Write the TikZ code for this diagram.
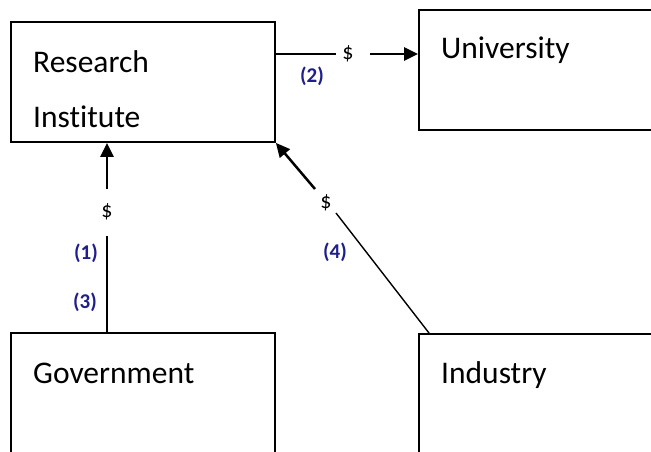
\documentclass[tikz,border=0pt]{standalone}
\usepackage{fontspec}
\setmainfont{Carlito}[Ligatures=NoCommon]
\usetikzlibrary{arrows.meta}
\definecolor{labelblue}{RGB}{30,30,140}
\begin{document}
\begin{tikzpicture}[x=1pt,y=-1pt,
  box/.style={draw,line width=1.8pt,rectangle,inner sep=0pt},
  boxtext/.style={anchor=base west,inner sep=0pt,font=\fontsize{31.5}{36}\selectfont},
  money/.style={inner sep=0pt,font=\fontsize{22}{26}\selectfont},
  stepno/.style={inner sep=0pt,text=labelblue,font=\bfseries\fontsize{21}{25}\selectfont},
  plain/.style={line width=1.4pt},
  flow/.style={line width=2.5pt,-{Triangle[length=14pt,width=13pt]}}]
  \useasboundingbox (0,0) rectangle (651,452);
  \clip (0,0) rectangle (651,452);

  % boxes (the three on the right and bottom run past the page edge)
  \node[box,minimum width=264pt,minimum height=120pt] (ri)  at (143,82)  {};
  \node[box,minimum width=300pt,minimum height=120pt] (uni) at (569,70)  {};
  \node[box,minimum width=264pt,minimum height=180pt] (gov) at (143,423) {};
  \node[box,minimum width=300pt,minimum height=180pt] (ind) at (569,424) {};

  % box titles
  \node[boxtext] (riA)  at (33,73)   {Research};
  \node[boxtext] (riB)  at (33,127)  {Institute};
  \node[boxtext] (uniT) at (441,59)  {University};
  \node[boxtext] (govT) at (33,383)  {Government};
  \node[boxtext] (indT) at (441,383) {Industry};

  % money signs that interrupt the flows
  \node[money] (d1) at (107,212) {\$};
  \node[money] (d2) at (348,54)  {\$};
  \node[money] (d4) at (326,203) {\$};

  % flow numbers
  \node[stepno] (n1) at (86,253)  {(1)};
  \node[stepno] (n3) at (85,302)  {(3)};
  \node[stepno] (n2) at (312,76)  {(2)};
  \node[stepno] (n4) at (335,252) {(4)};

  % break points of the connectors around the money signs
  \coordinate (a2) at (336,54);
  \coordinate (b2) at (370,54);
  \coordinate (a1) at (107,236);
  \coordinate (b1) at (107,189);
  \coordinate (a4) at (336,213);
  \coordinate (e4) at (429,333);
  \coordinate (b4) at (315,189);

  % research institute -> university
  \draw[plain] (a2 -| ri.east) -- (a2);
  \draw[flow] (b2) -- (b2 -| uni.west);

  % government -> research institute
  \draw[plain] (a1 |- gov.north) -- (a1);
  \draw[flow] (b1) -- (b1 |- ri.south);

  % industry -> research institute
  \draw[plain] (e4) -- (a4);
  \draw[flow] (b4) -- (ri.south east);
\end{tikzpicture}
\end{document}
